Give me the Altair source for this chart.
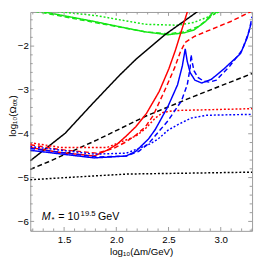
import altair as alt
import pandas as pd

W, H = 229, 226
FRAME = "#9a9a9a"
FONT = "Liberation Sans"
XDOM = [1.176, 3.300]
YDOM = [-6.216, -1.222]

# ---- series ----
BLACK_SOLID_X = [1.176, 1.510, 1.770, 2.029, 2.187, 2.465, 2.772, 2.810]
BLACK_SOLID_Y = [-4.616, -3.989, -3.319, -2.670, -2.303, -1.741, -1.222, -1.157]
BLACK_DASHED_X = [1.176, 1.352, 1.816, 2.280, 2.744, 3.300]
BLACK_DASHED_Y = [-4.811, -4.638, -4.141, -3.600, -3.146, -2.627]
BLACK_DOTTED_X = [1.176, 1.631, 2.104, 2.744, 3.300]
BLACK_DOTTED_Y = [-5.049, -4.984, -4.919, -4.897, -4.876]

GREEN_SOLID_X = [1.213, 1.788, 2.094, 2.280, 2.493, 2.651, 2.744, 2.855, 2.948]
GREEN_SOLID_Y = [-1.178, -1.438, -1.589, -1.676, -1.741, -1.697, -1.632, -1.438, -1.157]
GREEN_DASHED_X = [1.213, 1.788, 2.280, 2.493, 2.651, 2.790, 2.883, 2.994]
GREEN_DASHED_Y = [-1.200, -1.459, -1.676, -1.719, -1.676, -1.546, -1.373, -1.157]
GREEN_DOTTED_X = [1.399, 1.816, 2.280, 2.586, 2.744, 2.883, 3.041]
GREEN_DOTTED_Y = [-1.200, -1.308, -1.503, -1.524, -1.459, -1.330, -1.157]

RED_SOLID_X = [1.176, 1.445, 1.788, 1.909, 2.002, 2.094, 2.187, 2.289, 2.410, 2.503, 2.567, 2.632, 2.688]
RED_SOLID_Y = [-4.314, -4.422, -4.508, -4.378, -4.249, -4.054, -3.838, -3.535, -3.038, -2.519, -2.086, -1.589, -1.157]
RED_DASHED_X = [1.176, 1.445, 1.816, 1.974, 2.094, 2.187, 2.280, 2.354, 2.475, 2.558, 2.614, 2.660, 2.744, 2.874, 3.096, 3.300]
RED_DASHED_Y = [-4.249, -4.357, -4.443, -4.335, -4.184, -4.032, -3.838, -3.578, -2.951, -2.497, -2.130, -1.914, -1.784, -1.654, -1.438, -1.200]
RED_DOTTED_X = [1.176, 1.473, 1.909, 2.048, 2.187, 2.280, 2.373, 2.447, 2.558, 2.929, 3.300]
RED_DOTTED_Y = [-4.205, -4.314, -4.314, -4.184, -4.054, -3.881, -3.643, -3.514, -3.470, -3.449, -3.427]

BLUE_SOLID_X = [1.176, 1.788, 2.094, 2.187, 2.308, 2.373, 2.493, 2.586, 2.632, 2.660, 2.679, 2.707, 2.753, 2.818, 2.911, 3.031, 3.189, 3.254, 3.291]
BLUE_SOLID_Y = [-4.378, -4.551, -4.508, -4.400, -4.119, -3.903, -3.384, -2.886, -2.454, -2.065, -2.346, -2.605, -2.778, -2.843, -2.757, -2.519, -2.173, -1.805, -1.481]
BLUE_DASHED_X = [1.176, 1.816, 2.094, 2.215, 2.308, 2.400, 2.493, 2.623, 2.679, 2.707, 2.716, 2.725, 2.744, 2.781, 2.837, 2.892, 2.957, 3.087, 3.207, 3.272, 3.300]
BLUE_DASHED_Y = [-4.335, -4.530, -4.508, -4.400, -4.227, -3.968, -3.708, -3.254, -2.886, -2.497, -2.195, -2.346, -2.562, -2.714, -2.800, -2.822, -2.778, -2.454, -2.086, -1.654, -1.330]
BLUE_DOTTED_X = [1.176, 1.788, 2.094, 2.215, 2.326, 2.400, 2.493, 2.586, 2.716, 2.864, 3.300]
BLUE_DOTTED_Y = [-4.292, -4.465, -4.443, -4.335, -4.227, -4.119, -3.924, -3.795, -3.643, -3.578, -3.557]

X_MAJOR = [1.5, 2.0, 2.5, 3.0]
X_MINOR = [1.2, 1.3, 1.4, 1.6, 1.7, 1.8, 1.9, 2.1, 2.2, 2.3, 2.4, 2.6, 2.7, 2.8, 2.9, 3.1, 3.2, 3.3]
Y_MAJOR = [-2, -3, -4, -5, -6]
Y_MINOR = [-6.2, -5.8, -5.6, -5.4, -5.2, -4.8, -4.6, -4.4, -4.2, -3.8, -3.6, -3.4, -3.2,
           -2.8, -2.6, -2.4, -2.2, -1.8, -1.6, -1.4]

ANNOT_X = 1.287
ANNOT_Y = -5.978

RED, BLUE, GREEN, BLACK = "#ff0000", "#0000ff", "#14e614", "#000000"
SOLID, DASHED, DOTTED = [1, 0], [5, 3], [2, 2]

series = [
    ("green_solid", GREEN, SOLID, GREEN_SOLID_X, GREEN_SOLID_Y),
    ("green_dashed", GREEN, DASHED, GREEN_DASHED_X, GREEN_DASHED_Y),
    ("green_dotted", GREEN, DOTTED, GREEN_DOTTED_X, GREEN_DOTTED_Y),
    ("black_solid", BLACK, SOLID, BLACK_SOLID_X, BLACK_SOLID_Y),
    ("black_dashed", BLACK, DASHED, BLACK_DASHED_X, BLACK_DASHED_Y),
    ("black_dotted", BLACK, DOTTED, BLACK_DOTTED_X, BLACK_DOTTED_Y),
    ("red_solid", RED, SOLID, RED_SOLID_X, RED_SOLID_Y),
    ("red_dashed", RED, DASHED, RED_DASHED_X, RED_DASHED_Y),
    ("red_dotted", RED, DOTTED, RED_DOTTED_X, RED_DOTTED_Y),
    ("blue_solid", BLUE, SOLID, BLUE_SOLID_X, BLUE_SOLID_Y),
    ("blue_dashed", BLUE, DASHED, BLUE_DASHED_X, BLUE_DASHED_Y),
    ("blue_dotted", BLUE, DOTTED, BLUE_DOTTED_X, BLUE_DOTTED_Y),
]

rows = []
for name, col, dash, xs, ys in series:
    for i, (xv, yv) in enumerate(zip(xs, ys)):
        rows.append({"series": name, "i": i, "x": xv, "y": yv})
df = pd.DataFrame(rows)

xscale = alt.Scale(domain=XDOM, nice=False, zero=False)
yscale = alt.Scale(domain=YDOM, nice=False, zero=False)

xaxis = alt.Axis(values=X_MAJOR, format=".1f", title="log₁₀(Δm/GeV)",
                 labelPadding=4, titleY=16, titleBaseline="top")
yaxis = alt.Axis(values=Y_MAJOR, format="d", title="log₁₀(Ωₜₒₜ)",
                 labelPadding=2, titleX=-13.5, titleY=H / 2 - 6,
                 titleAngle=270, titleBaseline="bottom", titleAlign="center")

X = lambda: alt.X("x:Q", scale=xscale, axis=xaxis)
Y = lambda: alt.Y("y:Q", scale=yscale, axis=yaxis)

lines = alt.Chart(df).mark_line(clip=True, strokeWidth=1.5).encode(
    x=X(), y=Y(),
    color=alt.Color("series:N", scale=alt.Scale(domain=[s[0] for s in series],
                                                range=[s[1] for s in series]), legend=None),
    strokeDash=alt.StrokeDash("series:N", scale=alt.Scale(domain=[s[0] for s in series],
                                                          range=[s[2] for s in series]), legend=None),
    detail="series:N",
    order=alt.Order("i:Q"),
)

def xticks(vals, length, top):
    d = pd.DataFrame({"x": vals})
    if top:
        return alt.Chart(d).mark_rule(color=FRAME, strokeWidth=1).encode(
            x=X(), y=alt.value(0), y2=alt.value(length))
    return alt.Chart(d).mark_rule(color=FRAME, strokeWidth=1).encode(
        x=X(), y=alt.value(H), y2=alt.value(H - length))

def yticks(vals, length, right):
    d = pd.DataFrame({"y": vals})
    if right:
        return alt.Chart(d).mark_rule(color=FRAME, strokeWidth=1).encode(
            y=Y(), x=alt.value(W), x2=alt.value(W - length))
    return alt.Chart(d).mark_rule(color=FRAME, strokeWidth=1).encode(
        y=Y(), x=alt.value(0), x2=alt.value(length))

ticks = [
    xticks(X_MAJOR, 4, False), xticks(X_MINOR, 2.5, False),
    xticks(X_MAJOR, 4, True), xticks(X_MINOR, 2.5, True),
    yticks(Y_MAJOR, 4, False), yticks(Y_MINOR, 2.5, False),
    yticks(Y_MAJOR, 4, True), yticks(Y_MINOR, 2.5, True),
]

ann = pd.DataFrame({"x": [ANNOT_X], "y": [ANNOT_Y]})
def piece(txt, size, dx, dy, style="normal"):
    return alt.Chart(ann).mark_text(
        text=txt, fontSize=size, dx=dx, dy=dy, align="left", baseline="alphabetic",
        font=FONT, fontStyle=style, color="#000000").encode(x=X(), y=Y())

texts = [
    piece("M", 11, 0, 0, "italic"),
    piece("*", 8, 10, 2),
    piece("= 10", 11, 17, 0),
    piece("19.5", 8, 40, -5),
    piece("GeV", 11, 58, 0),
]

chart = alt.layer(lines, *ticks, *texts).properties(
    width=W, height=H,
    autosize=alt.AutoSizeParams(type="none"),
    padding={"left": 23, "top": 0, "right": 2, "bottom": 28},
).configure_view(stroke=FRAME, strokeWidth=1).configure_axis(
    domain=False, ticks=False, grid=False, labelColor="#000000", titleColor="#000000",
    labelFont=FONT, titleFont=FONT, labelFontSize=10, titleFontSize=10,
    titleFontWeight="normal",
)

chart.save("out.html", embed_options={"renderer": "svg", "actions": False})
